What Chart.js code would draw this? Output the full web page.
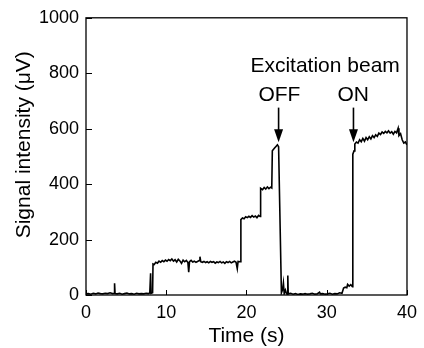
<!DOCTYPE html>
<html>
<head>
<meta charset="utf-8">
<script src="https://cdn.jsdelivr.net/npm/chart.js@4"></script>
<style>
  html, body { margin: 0; padding: 0; background: #fff; }
  #wrap { width: 424px; height: 348px; }
</style>
</head>
<body>
<div id="wrap"><canvas id="signalChart" width="424" height="348"></canvas></div>
<script>
// time (s) and signal (uV)
var times = [0, 0.3, 0.6, 0.9, 1.2, 1.5, 1.8, 2.1, 2.4, 2.7, 3.0, 3.3, 3.5, 3.56, 3.62, 3.9, 4.2, 4.5, 4.8, 5.1,
  5.4, 5.7, 6.0, 6.3, 6.6, 6.9, 7.2, 7.5, 7.8, 7.95, 8.05, 8.1, 8.3, 8.35, 8.5, 8.7, 8.9, 9.1, 9.3, 9.5,
  9.7, 9.9, 10.1, 10.3, 10.5, 10.7, 10.9, 11.1, 11.3, 11.5, 11.7, 11.9, 12.1, 12.3, 12.5, 12.7, 12.8, 12.9, 13.1, 13.3,
  13.5, 13.7, 13.9, 14.1, 14.2, 14.3, 14.5, 14.7, 14.9, 15.1, 15.3, 15.5, 15.7, 15.9, 16.1, 16.3, 16.5, 16.7, 16.9, 17.1,
  17.3, 17.5, 17.7, 17.9, 18.1, 18.3, 18.5, 18.7, 18.85, 18.95, 19.2, 19.3, 19.5, 19.7, 19.9, 20.1, 20.3, 20.5, 20.7, 20.9,
  21.1, 21.3, 21.5, 21.7, 21.76, 22.0, 22.2, 22.4, 22.6, 22.8, 23.0, 23.15, 23.22, 23.5, 23.7, 23.85, 24.0, 24.35, 24.5, 24.6,
  24.7, 24.85, 25.0, 25.1, 25.15, 25.2, 25.5, 25.8, 26.1, 26.4, 26.7, 27.0, 27.3, 27.6, 27.9, 28.2, 28.5, 28.8, 29.1, 29.2,
  29.5, 29.8, 30.1, 30.4, 30.7, 31.0, 31.3, 31.6, 31.9, 32.1, 32.3, 32.5, 32.6, 32.8, 33.0, 33.2, 33.25, 33.4, 33.5, 33.7,
  33.9, 34.1, 34.3, 34.5, 34.7, 34.9, 35.1, 35.3, 35.5, 35.7, 35.9, 36.1, 36.3, 36.5, 36.7, 36.9, 37.1, 37.3, 37.5, 37.7,
  37.9, 38.1, 38.3, 38.5, 38.7, 38.9, 39.0, 39.2, 39.4, 39.6, 39.8, 40.0];
var signal = [4, 5, 3, 6, 4, 7, 5, 4, 6, 5, 8, 5, 6, 42, 5, 4, 6, 3, 5, 7,
  4, 5, 3, 6, 4, 5, 4, 6, 5, 8, 78, 6, 8, 112, 110, 118, 115, 122, 118, 124,
  120, 126, 122, 128, 124, 130, 122, 127, 119, 129, 123, 114, 126, 120, 125, 117, 82, 120, 125, 119,
  122, 118, 121, 124, 138, 120, 118, 121, 117, 120, 116, 121, 118, 120, 115, 119, 117, 121, 116, 119,
  114, 120, 117, 121, 116, 119, 122, 118, 95, 121, 120, 272, 278, 275, 282, 279, 284, 280, 286, 281,
  285, 279, 287, 283, 385, 380, 388, 382, 390, 384, 389, 386, 520, 530, 537, 542, 535, 8, 20, 43,
  5, 18, 4, 3, 70, 4, 6, 3, 5, 2, 4, 3, 5, 3, 4, 6, 3, 4, 10, 4,
  5, 3, 4, 6, 3, 5, 4, 8, 6, 25, 28, 26, 38, 32, 37, 30, 508, 520, 545, 552,
  548, 560, 553, 565, 555, 568, 560, 571, 563, 575, 568, 578, 572, 584, 579, 588, 583, 590, 585, 592,
  584, 589, 580, 590, 585, 602, 575, 582, 560, 548, 552, 542];

var xTicks = [0, 10, 20, 30, 40];
var yTicks = [0, 200, 400, 600, 800, 1000];

// annotation text and arrows (data units)
var noteTexts = ['Excitation beam', 'OFF', 'ON'];
var noteX = [29.8, 24.1, 33.3];
var noteY = [827, 719, 719];
var arrowX = [24.0, 33.33];
var arrowTop = [676];
var arrowTip = [551];

var FONT = '"Liberation Sans", Arial, sans-serif';
var points = times.map(function (t, i) { return { x: t, y: signal[i] }; });

var frameAndNotes = {
  id: 'frameAndNotes',
  afterDatasetsDraw: function (chart) {
    var ctx = chart.ctx;
    var a = chart.chartArea;
    var xs = chart.scales.x, ys = chart.scales.y;
    ctx.save();
    ctx.strokeStyle = '#000';
    ctx.lineWidth = 1.3;
    ctx.strokeRect(a.left, a.top, a.right - a.left, a.bottom - a.top);
    // inward tick marks
    ctx.lineWidth = 1;
    ctx.beginPath();
    xTicks.forEach(function (v) {
      var px = Math.round(xs.getPixelForValue(v)) + 0.5;
      ctx.moveTo(px, a.bottom);
      ctx.lineTo(px, a.bottom - 5);
    });
    yTicks.forEach(function (v) {
      var py = Math.round(ys.getPixelForValue(v)) + 0.5;
      ctx.moveTo(a.left, py);
      ctx.lineTo(a.left + 6, py);
    });
    ctx.stroke();
    // labels
    ctx.fillStyle = '#000';
    ctx.font = '21px ' + FONT;
    ctx.textAlign = 'center';
    ctx.textBaseline = 'middle';
    noteTexts.forEach(function (s, i) {
      ctx.fillText(s, xs.getPixelForValue(noteX[i]), ys.getPixelForValue(noteY[i]));
    });
    // arrows
    arrowX.forEach(function (v) {
      var px = xs.getPixelForValue(v);
      var y1 = ys.getPixelForValue(arrowTop[0]);
      var y2 = ys.getPixelForValue(arrowTip[0]);
      ctx.lineWidth = 1.6;
      ctx.beginPath();
      ctx.moveTo(px, y1);
      ctx.lineTo(px, y2 - 10);
      ctx.stroke();
      ctx.beginPath();
      ctx.moveTo(px - 4.5, y2 - 13);
      ctx.lineTo(px + 4.5, y2 - 13);
      ctx.lineTo(px, y2);
      ctx.closePath();
      ctx.fill();
    });
    ctx.restore();
  }
};

var chart = new Chart('signalChart', {
  type: 'line',
  data: {
    datasets: [
      {
        data: points,
        borderColor: '#000',
        borderWidth: 1.6,
        pointRadius: 0,
        tension: 0,
        fill: false
      }
    ]
  },
  options: {
    responsive: false,
    animation: false,
    layout: { padding: { top: 17, right: 12, left: 0, bottom: 0 } },
    plugins: { legend: { display: false }, tooltip: { enabled: false } },
    scales: {
      x: {
        type: 'linear',
        min: 0,
        max: 40,
        afterBuildTicks: function (s) { s.ticks = xTicks.map(function (v) { return { value: v }; }); },
        afterFit: function (s) { s.height = 53; },
        grid: { display: false, drawTicks: false },
        border: { display: false },
        ticks: { color: '#000', padding: 7, maxRotation: 0, font: { family: FONT, size: 18 },
          callback: function (v) { return String(v); } },
        title: { display: true, text: 'Time (s)', color: '#000', padding: { top: 0, bottom: 1 },
          font: { family: FONT, size: 21, lineHeight: 1 } }
      },
      y: {
        min: 0,
        max: 1000,
        afterBuildTicks: function (s) { s.ticks = yTicks.map(function (v) { return { value: v }; }); },
        afterFit: function (s) { s.width = 86; },
        grid: { display: false, drawTicks: false },
        border: { display: false },
        ticks: { color: '#000', padding: 7, font: { family: FONT, size: 18 },
          callback: function (v) { return String(v); } },
        title: { display: true, text: '    Signal intensity (\u03bcV)', color: '#000', padding: { top: 12, bottom: 0 },
          font: { family: FONT, size: 21 } }
      }
    }
  },
  plugins: [frameAndNotes]
});
</script>
</body>
</html>
